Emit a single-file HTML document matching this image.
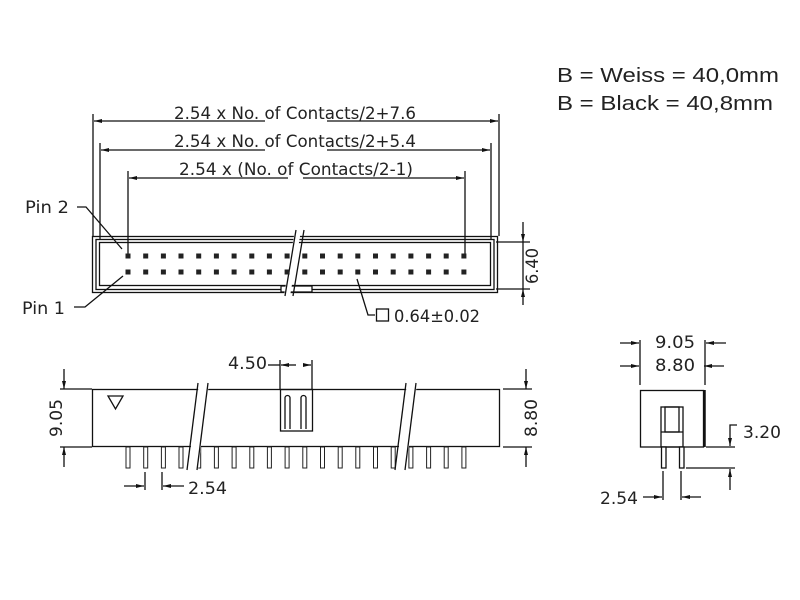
<!DOCTYPE html>
<html><head><meta charset="utf-8"><style>
html,body{margin:0;padding:0;background:#fff;width:800px;height:600px;overflow:hidden}
svg{display:block}
text{font-family:"DejaVu Sans","Liberation Sans",sans-serif;fill:#222}
</style></head><body>
<svg width="800" height="600" viewBox="0 0 800 600" xmlns="http://www.w3.org/2000/svg">
<defs>
<marker id="a" markerWidth="8" markerHeight="6" refX="8" refY="3" orient="auto" markerUnits="userSpaceOnUse"><path d="M0,1 L8,3 L0,5 Z" fill="#111"/></marker>
<rect id="p" x="-2.5" y="-2.5" width="5" height="5" fill="#222"/>
<g id="sp"><rect x="-2" y="447" width="4" height="21" fill="#fff" stroke="#222" stroke-width="1"/></g>
</defs>
<g stroke="#111" stroke-width="1.3" fill="none">
<line x1="93" y1="114" x2="93" y2="236"/><line x1="499" y1="114" x2="499" y2="236"/>
<line x1="100" y1="143" x2="100" y2="240"/><line x1="491" y1="143" x2="491" y2="240"/>
<line x1="128" y1="171" x2="128" y2="256"/><line x1="465" y1="171" x2="465" y2="256"/>
<line x1="265" y1="121" x2="94" y2="121" marker-end="url(#a)"/><line x1="327" y1="121" x2="498" y2="121" marker-end="url(#a)"/>
<line x1="265" y1="150" x2="101" y2="150" marker-end="url(#a)"/><line x1="327" y1="150" x2="490" y2="150" marker-end="url(#a)"/>
<line x1="288" y1="178" x2="129" y2="178" marker-end="url(#a)"/><line x1="303" y1="178" x2="464" y2="178" marker-end="url(#a)"/>
<rect x="92.5" y="236.5" width="405" height="56"/>
<rect x="96" y="239.5" width="398" height="50"/>
<rect x="99.5" y="242.5" width="391" height="43"/>
<rect x="281" y="286" width="31" height="6" fill="#fff"/>
<line x1="287" y1="296" x2="298" y2="230" stroke="#fff" stroke-width="6"/>
<line x1="285" y1="296" x2="296" y2="230"/><line x1="293" y1="296" x2="304" y2="230"/>
<line x1="496" y1="242" x2="530" y2="242"/><line x1="496" y1="289" x2="530" y2="289"/>
<line x1="523" y1="222" x2="523" y2="242" marker-end="url(#a)"/><line x1="523" y1="305" x2="523" y2="289" marker-end="url(#a)"/>
<line x1="523" y1="242" x2="523" y2="289"/>
<polyline points="77,207 86,207 122,249"/>
<polyline points="74,307 85,307 123,276"/>
<polyline points="357,279 368,315 375,315"/>
<rect x="376.5" y="309" width="12" height="12"/>
<rect x="92.5" y="389.5" width="407" height="57"/>
<polygon points="108,396 123,396 115.5,409"/>
<rect x="280.5" y="389.5" width="32" height="41.5"/>
<path d="M285,429 V398 a2.5,2.5 0 0 1 5,0 V429"/>
<path d="M301,429 V398 a2.5,2.5 0 0 1 5,0 V429"/>
<line x1="280" y1="389" x2="280" y2="360"/><line x1="312" y1="389" x2="312" y2="360"/>
<line x1="268" y1="365" x2="280" y2="365"/>
<line x1="283" y1="365" x2="296" y2="365"/>
<line x1="286" y1="365" x2="281" y2="365" marker-end="url(#a)"/><line x1="303" y1="365" x2="311" y2="365" marker-end="url(#a)"/>
<line x1="60" y1="389" x2="92" y2="389"/><line x1="60" y1="447" x2="92" y2="447"/>
<line x1="64" y1="369" x2="64" y2="389" marker-end="url(#a)"/><line x1="64" y1="467" x2="64" y2="447" marker-end="url(#a)"/>
<line x1="503" y1="389" x2="532" y2="389"/><line x1="503" y1="447" x2="532" y2="447"/>
<line x1="526" y1="369" x2="526" y2="389" marker-end="url(#a)"/><line x1="526" y1="467" x2="526" y2="447" marker-end="url(#a)"/>
<line x1="145" y1="472" x2="145" y2="490"/><line x1="162" y1="472" x2="162" y2="490"/>
<line x1="124" y1="486" x2="144" y2="486" marker-end="url(#a)"/><line x1="184" y1="486" x2="163" y2="486" marker-end="url(#a)"/>
</g>
<g>
<use href="#p" x="128" y="256"/><use href="#p" x="145.7" y="256"/><use href="#p" x="163.4" y="256"/><use href="#p" x="181" y="256"/><use href="#p" x="198.7" y="256"/><use href="#p" x="216.4" y="256"/><use href="#p" x="234.1" y="256"/><use href="#p" x="251.8" y="256"/><use href="#p" x="269.4" y="256"/><use href="#p" x="287.1" y="256"/><use href="#p" x="304.8" y="256"/><use href="#p" x="322.5" y="256"/><use href="#p" x="340.2" y="256"/><use href="#p" x="357.8" y="256"/><use href="#p" x="375.5" y="256"/><use href="#p" x="393.2" y="256"/><use href="#p" x="410.9" y="256"/><use href="#p" x="428.6" y="256"/><use href="#p" x="446.2" y="256"/><use href="#p" x="463.9" y="256"/>
<use href="#p" x="128" y="272"/><use href="#p" x="145.7" y="272"/><use href="#p" x="163.4" y="272"/><use href="#p" x="181" y="272"/><use href="#p" x="198.7" y="272"/><use href="#p" x="216.4" y="272"/><use href="#p" x="234.1" y="272"/><use href="#p" x="251.8" y="272"/><use href="#p" x="269.4" y="272"/><use href="#p" x="287.1" y="272"/><use href="#p" x="304.8" y="272"/><use href="#p" x="322.5" y="272"/><use href="#p" x="340.2" y="272"/><use href="#p" x="357.8" y="272"/><use href="#p" x="375.5" y="272"/><use href="#p" x="393.2" y="272"/><use href="#p" x="410.9" y="272"/><use href="#p" x="428.6" y="272"/><use href="#p" x="446.2" y="272"/><use href="#p" x="463.9" y="272"/>
<use href="#sp" x="128"/><use href="#sp" x="145.7"/><use href="#sp" x="163.4"/><use href="#sp" x="181"/><use href="#sp" x="198.7"/><use href="#sp" x="216.4"/><use href="#sp" x="234.1"/><use href="#sp" x="251.8"/><use href="#sp" x="269.4"/><use href="#sp" x="287.1"/><use href="#sp" x="304.8"/><use href="#sp" x="322.5"/><use href="#sp" x="340.2"/><use href="#sp" x="357.8"/><use href="#sp" x="375.5"/><use href="#sp" x="393.2"/><use href="#sp" x="410.9"/><use href="#sp" x="428.6"/><use href="#sp" x="446.2"/><use href="#sp" x="463.9"/>
</g>
<g stroke="#111" stroke-width="1.3" fill="none">
<path d="M188,470 L199,383 L209,383 L198,470 Z" fill="#fff" stroke="none"/>
<line x1="187" y1="470" x2="198" y2="383"/><line x1="197" y1="470" x2="208" y2="383"/>
<path d="M396,470 L407,383 L417,383 L406,470 Z" fill="#fff" stroke="none"/>
<line x1="395" y1="470" x2="406" y2="383"/><line x1="405" y1="470" x2="416" y2="383"/>
<rect x="640.5" y="390.5" width="63" height="56.5"/>
<line x1="704.5" y1="390" x2="704.5" y2="447" stroke-width="2.5"/>
<rect x="661" y="407" width="22" height="40"/>
<rect x="665" y="407" width="14" height="25"/>
<line x1="661" y1="432" x2="683" y2="432"/>
<rect x="661.5" y="447" width="4.5" height="21" fill="#fff"/>
<rect x="679.5" y="447" width="4.5" height="21" fill="#fff"/>
<line x1="640" y1="340" x2="640" y2="385"/><line x1="705" y1="340" x2="705" y2="385"/>
<line x1="620" y1="343" x2="639" y2="343" marker-end="url(#a)"/><line x1="726" y1="343" x2="706" y2="343" marker-end="url(#a)"/>
<line x1="620" y1="366" x2="639" y2="366" marker-end="url(#a)"/><line x1="724" y1="366" x2="704" y2="366" marker-end="url(#a)"/>
<line x1="706" y1="447" x2="735" y2="447"/><line x1="686" y1="468" x2="735" y2="468"/>
<polyline points="737,425 730,425 730,446" marker-end="url(#a)"/>
<line x1="730" y1="490" x2="730" y2="469" marker-end="url(#a)"/>
<line x1="663" y1="471" x2="663" y2="500"/><line x1="681" y1="471" x2="681" y2="500"/>
<line x1="643" y1="497" x2="662" y2="497" marker-end="url(#a)"/><line x1="701" y1="497" x2="682" y2="497" marker-end="url(#a)"/>
</g>
<g font-size="17">
<text x="295" y="119" text-anchor="middle" textLength="242" lengthAdjust="spacingAndGlyphs">2.54 x No. of Contacts/2+7.6</text>
<text x="295" y="147" text-anchor="middle" textLength="242" lengthAdjust="spacingAndGlyphs">2.54 x No. of Contacts/2+5.4</text>
<text x="296" y="175" text-anchor="middle" textLength="234" lengthAdjust="spacingAndGlyphs">2.54 x (No. of Contacts/2-1)</text>
<text x="25" y="213" textLength="44" lengthAdjust="spacingAndGlyphs">Pin 2</text>
<text x="22" y="314" textLength="43" lengthAdjust="spacingAndGlyphs">Pin 1</text>
<text x="394" y="322" textLength="86" lengthAdjust="spacingAndGlyphs">0.64±0.02</text>
<text x="228" y="369" textLength="39" lengthAdjust="spacingAndGlyphs">4.50</text>
<text x="188" y="494" textLength="39" lengthAdjust="spacingAndGlyphs">2.54</text>
<text x="600" y="504" textLength="38" lengthAdjust="spacingAndGlyphs">2.54</text>
<text x="655" y="348" textLength="40" lengthAdjust="spacingAndGlyphs">9.05</text>
<text x="655" y="371" textLength="40" lengthAdjust="spacingAndGlyphs">8.80</text>
<text x="743" y="438" textLength="38" lengthAdjust="spacingAndGlyphs">3.20</text>
<text transform="translate(538,266) rotate(-90)" text-anchor="middle" textLength="36" lengthAdjust="spacingAndGlyphs">6.40</text>
<text transform="translate(62,418) rotate(-90)" text-anchor="middle" textLength="38" lengthAdjust="spacingAndGlyphs">9.05</text>
<text transform="translate(537,418) rotate(-90)" text-anchor="middle" textLength="38" lengthAdjust="spacingAndGlyphs">8.80</text>
</g>
<g font-size="20">
<text x="557" y="82" textLength="222" lengthAdjust="spacingAndGlyphs" style="font-family:'Liberation Sans',sans-serif">B = Weiss = 40,0mm</text>
<text x="557" y="110" textLength="216" lengthAdjust="spacingAndGlyphs" style="font-family:'Liberation Sans',sans-serif">B = Black = 40,8mm</text>
</g>
</svg>
</body></html>
